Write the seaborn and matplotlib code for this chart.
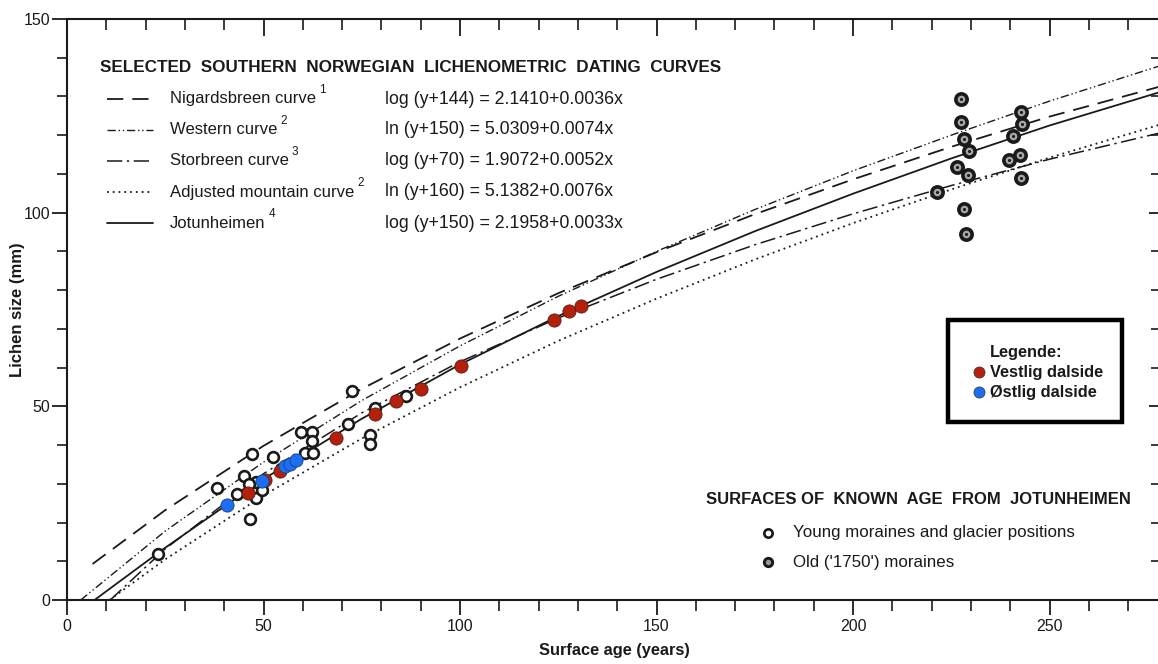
import matplotlib
matplotlib.use("Agg")
import matplotlib.pyplot as plt
import seaborn as sns
import pandas as pd
from matplotlib.lines import Line2D
from matplotlib.patches import Rectangle

# ---------------- data ----------------
curve_names = ["Nigardsbreen curve", "Western curve", "Storbreen curve",
               "Adjusted mountain curve", "Jotunheimen"]
curve_refs = ["1", "2", "3", "2", "4"]
curve_eqs = ["log (y+144) = 2.1410+0.0036x",
             "ln (y+150) = 5.0309+0.0074x",
             "log (y+70) = 1.9072+0.0052x",
             "ln (y+160) = 5.1382+0.0076x",
             "log (y+150) = 2.1958+0.0033x"]

nig_age = [6.5, 25, 50, 75, 100, 125, 150, 175, 200, 225, 250, 279]
nig_size = [9.3, 23.2, 39.8, 54.5, 67.5, 79.2, 89.8, 99.6, 108.6, 117.0, 124.8, 132.8]
wes_age = [3.5, 25, 50, 75, 100, 125, 150, 175, 200, 225, 250, 279]
wes_size = [0, 17.8, 35.6, 51.5, 65.6, 78.4, 90.0, 100.8, 110.8, 120.0, 128.8, 138.2]
sto_age = [11, 25, 50, 75, 100, 125, 150, 175, 200, 225, 250, 279]
sto_size = [0, 13.2, 32.6, 48.3, 61.5, 72.8, 82.8, 91.7, 99.7, 107.0, 113.8, 120.8]
adj_age = [10.8, 25, 50, 75, 100, 125, 150, 175, 200, 225, 250, 279]
adj_size = [0, 10.5, 27.0, 41.7, 54.9, 66.9, 77.8, 87.9, 97.3, 106.0, 114.2, 123.0]
jot_age = [7, 25, 50, 75, 100, 125, 150, 175, 200, 225, 250, 279]
jot_size = [0, 13.5, 31.2, 46.8, 60.8, 73.3, 84.7, 95.2, 104.9, 114.0, 122.5, 131.4]

young_age = [23.2, 38.2, 43.2, 45.1, 47.0, 46.5, 48.0, 49.6, 48.2, 46.3, 52.3, 59.6,
             62.3, 62.4, 60.5, 62.6, 71.4, 72.4, 77.1, 77.1, 78.4, 86.2]
young_size = [11.8, 28.8, 27.4, 31.9, 37.8, 20.8, 26.4, 28.3, 30.4, 30.0, 36.9, 43.4,
              43.5, 41.0, 37.9, 37.9, 45.4, 53.9, 42.7, 40.4, 49.6, 52.7]

old_age = [227.5, 227.5, 228.2, 229.6, 226.4, 229.3, 221.3, 228.3, 228.8,
           242.7, 243.1, 240.6, 242.5, 239.8, 242.7]
old_size = [129.3, 123.3, 119.0, 116.0, 111.8, 109.8, 105.4, 100.9, 94.4,
            126.1, 122.8, 119.8, 114.8, 113.6, 108.9]

west_age = [46.1, 50.4, 54.2, 68.4, 78.4, 83.7, 90.1, 100.3, 123.9, 127.7, 130.8]
west_size = [27.7, 31.0, 33.4, 41.9, 48.1, 51.5, 54.6, 60.3, 72.4, 74.5, 76.0]
east_age = [40.6, 49.5, 55.5, 56.7, 58.3]
east_size = [24.6, 30.8, 34.5, 35.2, 36.1]

x_label = "Surface age (years)"
y_label = "Lichen size (mm)"
title1 = "SELECTED  SOUTHERN  NORWEGIAN  LICHENOMETRIC  DATING  CURVES"
title2 = "SURFACES OF  KNOWN  AGE  FROM  JOTUNHEIMEN"
young_label = "Young moraines and glacier positions"
old_label = "Old ('1750') moraines"
box_title = "Legende:"
west_label = "Vestlig dalside"
east_label = "Østlig dalside"

# ---------------- styling ----------------
sns.set_style("ticks")
plt.rcParams['font.family'] = ['Liberation Sans', 'DejaVu Sans']

W, H = 1158, 664
fig = plt.figure(figsize=(W / 100, H / 100), dpi=100)
AX_L, AX_R, AX_B, AX_T = 67, 1161, 600, 19
ax = fig.add_axes([AX_L / W, (H - AX_B) / H, (AX_R - AX_L) / W, (AX_B - AX_T) / H])

INK = "#1a1a1a"
styles = [(0, (9, 5)), (0, (6, 2, 1, 2, 1, 2)), (0, (10, 3, 1.5, 3)), (0, (1, 2.2)), "-"]
widths = [1.3, 1.0, 1.1, 1.3, 1.3]
curves = [(nig_age, nig_size), (wes_age, wes_size), (sto_age, sto_size),
          (adj_age, adj_size), (jot_age, jot_size)]

for (xa, ya), ls, lw in zip(curves, styles, widths):
    df = pd.DataFrame({"age": xa, "size": ya})
    sns.lineplot(data=df, x="age", y="size", ax=ax, color=INK, linestyle=ls,
                 linewidth=lw, sort=False, estimator=None)

df_young = pd.DataFrame({"age": young_age, "size": young_size})
sns.scatterplot(data=df_young, x="age", y="size", ax=ax, s=60, marker="o",
                facecolor="white", edgecolor=INK, linewidth=1.9, zorder=4)
df_old = pd.DataFrame({"age": old_age, "size": old_size})
sns.scatterplot(data=df_old, x="age", y="size", ax=ax, s=66, marker="o",
                facecolor="#a8a8a8", edgecolor=INK, linewidth=2.6, zorder=4)
sns.scatterplot(data=df_old, x="age", y="size", ax=ax, s=5, marker="o",
                color=INK, linewidth=0, zorder=5)
df_w = pd.DataFrame({"age": west_age, "size": west_size})
sns.scatterplot(data=df_w, x="age", y="size", ax=ax, s=90, marker="o",
                color="#B3200C", edgecolor="#5a1a10", linewidth=0.6, zorder=6)
df_e = pd.DataFrame({"age": east_age, "size": east_size})
sns.scatterplot(data=df_e, x="age", y="size", ax=ax, s=90, marker="o",
                color="#1C6EF2", edgecolor="#1a3f80", linewidth=0.6, zorder=6)

ax.set_xlim(0, (AX_R - AX_L) / 3.93)
ax.set_ylim(0, 150)
ax.set_xticks([0, 50, 100, 150, 200, 250])
ax.set_xticks(range(0, 280, 10), minor=True)
ax.set_yticks([0, 50, 100, 150])
ax.set_yticks(range(0, 151, 10), minor=True)
for s in ax.spines.values():
    s.set_visible(True)
    s.set_linewidth(1.5)
    s.set_color(INK)
ax.tick_params(axis="x", which="major", direction="out", length=11, width=1.3,
               labelsize=11.5, pad=3, top=False, colors=INK)
ax.tick_params(axis="x", which="minor", direction="out", length=8, width=1.2, top=False,
               colors=INK)
ax.tick_params(axis="y", which="major", direction="out", length=11, width=1.3,
               labelsize=11.5, pad=1, right=False, colors=INK)
ax.tick_params(axis="y", which="minor", direction="out", length=7, width=1.2, right=False,
               colors=INK)
# inward ticks on top and right
axt = ax.secondary_xaxis("top")
axt.set_xticks([0, 50, 100, 150, 200, 250])
axt.set_xticks(range(0, 280, 10), minor=True)
axt.tick_params(which="major", direction="in", length=12, width=1.3, labeltop=False, colors=INK)
axt.tick_params(which="minor", direction="in", length=8, width=1.2, colors=INK)
axt.spines["top"].set_visible(False)
axr = ax.secondary_yaxis("right")
axr.set_yticks([0, 50, 100, 150])
axr.set_yticks(range(0, 151, 10), minor=True)
axr.tick_params(which="major", direction="in", length=9, width=1.3, labelright=False, colors=INK)
axr.tick_params(which="minor", direction="in", length=7, width=1.2, colors=INK)
axr.spines["right"].set_visible(False)

ax.set_xlabel(x_label, fontsize=11.8, fontweight="bold", color=INK)
ax.set_ylabel(y_label, fontsize=12, fontweight="bold", color=INK)
ax.xaxis.set_label_coords(0.5, (AX_B - 650) / (AX_B - AX_T), transform=ax.transAxes)
ax.yaxis.set_label_coords((18 - AX_L) / (AX_R - AX_L), 0.5, transform=ax.transAxes)
ax.xaxis.label.set_va("center")
ax.yaxis.label.set_va("center")


def P(px, py):
    return ((px - AX_L) / (AX_R - AX_L), (AX_B - py) / (AX_B - AX_T))


tr = ax.transAxes
# Top-left legend block
ax.text(*P(100, 68), title1, transform=tr, fontsize=12.3, fontweight="bold",
        va="center", ha="left", color=INK)
rows = [99, 130, 161, 192, 223]
for name, ref, eq, ls, lw, py in zip(curve_names, curve_refs, curve_eqs, styles, widths, rows):
    x0, y0 = P(107, py)
    x1, _ = P(153, py)
    ax.add_line(Line2D([x0, x1], [y0, y0], transform=tr, color=INK, linestyle=ls,
                       linewidth=lw))
    t = ax.text(*P(170, py), name, transform=tr, fontsize=12, va="center", ha="left",
                color=INK)
    ax.annotate(ref, xy=(1, 0.5), xycoords=t, xytext=(2, 2), textcoords="offset points",
                fontsize=8.5, va="bottom", ha="left", color=INK)
    ax.text(*P(385, py), eq, transform=tr, fontsize=12.8, va="center", ha="left", color=INK)

# Bottom-right legend block
ax.text(*P(706, 499), title2, transform=tr, fontsize=12, fontweight="bold",
        va="center", ha="left", color=INK)
ax.add_line(Line2D([P(768, 533)[0]], [P(768, 533)[1]], transform=tr, marker="o",
                   markersize=6, markerfacecolor="white", markeredgecolor=INK,
                   markeredgewidth=1.9, linestyle="none"))
ax.add_line(Line2D([P(768, 562)[0]], [P(768, 562)[1]], transform=tr, marker="o",
                   markersize=6, markerfacecolor="#9a9a9a", markeredgecolor=INK,
                   markeredgewidth=2.1, linestyle="none"))
ax.text(*P(793, 533), young_label, transform=tr, fontsize=12.2, va="center", ha="left", color=INK)
ax.text(*P(793, 562), old_label, transform=tr, fontsize=12.2, va="center", ha="left", color=INK)

# Boxed legend
bx0, by0 = P(948, 422)
bx1, by1 = P(1122, 320)
ax.add_patch(Rectangle((bx0, by0), bx1 - bx0, by1 - by0, transform=tr, facecolor="white",
                       edgecolor="black", linewidth=3.2, zorder=7))
ax.text(*P(990, 353), box_title, transform=tr, fontsize=11.8, fontweight="bold",
        va="center", ha="left", color=INK, zorder=8)
for py, col, lab in [(372, "#B3200C", west_label), (392, "#1C6EF2", east_label)]:
    ax.add_line(Line2D([P(979, py)[0]], [P(979, py)[1]], transform=tr, marker="o",
                       markersize=8, markerfacecolor=col, markeredgecolor="#333333",
                       markeredgewidth=0.5, linestyle="none", zorder=8))
    ax.text(*P(990, py), lab, transform=tr, fontsize=11.8, fontweight="bold",
            va="center", ha="left", color=INK, zorder=8)

fig.savefig("out.png", dpi=100)
